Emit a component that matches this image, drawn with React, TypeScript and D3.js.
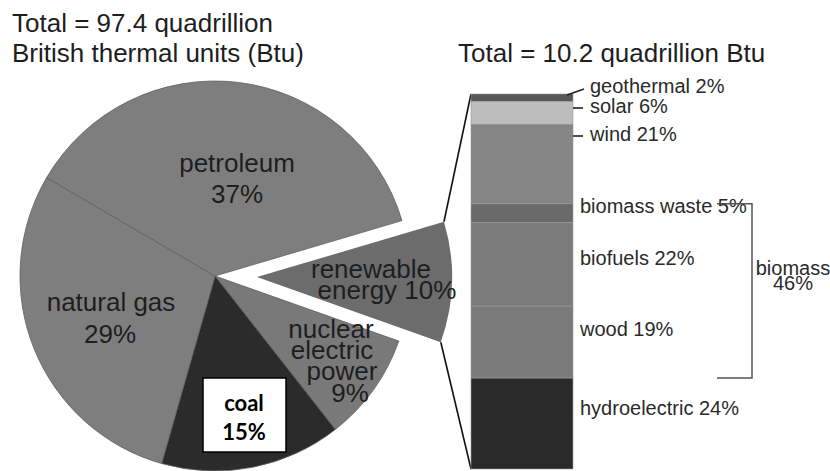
import React from 'react'
import * as d3 from 'd3'

// total energy consumption by source (percent)
const sources = ['renewable', 'nuclear', 'coal', 'natural gas', 'petroleum']
const shares = [10, 9, 15, 29, 37]
const sliceColors = ['#6c6c6c', '#797979', '#2b2b2b', '#7e7e7e', '#7e7e7e']

// renewable energy by source (percent)
const renewables = ['geothermal', 'solar', 'wind', 'biomass waste', 'biofuels', 'wood', 'hydroelectric']
const renewableShares = [2, 6, 21, 5, 22, 19, 24]
const barColors = ['#575757', '#bcbcbc', '#858585', '#6a6a6a', '#7b7b7b', '#7a7a7a', '#2a2a2a']
const biomassParts = ['biomass waste', 'biofuels', 'wood']
const biomassShare = 46

const totalAll = 97.4
const totalRenewable = 10.2

const W = 830, H = 471
const cx = 215, cy = 276, R = 195
const explode = 42
const START = (73.5 * Math.PI) / 180

const barX = 471, barW = 102, barTop = 94, barBottom = 469

const font = "'Liberation Sans', Arial, sans-serif"
const ink = '#1e1e1e'

// label placement, per slice: [x, baseline y] for each line
const pieLabels: Record<string, { text: string; x: number; y: number }[]> = {
  petroleum: [{ text: 'petroleum', x: 237, y: 172 }, { text: '37%', x: 237, y: 203 }],
  'natural gas': [{ text: 'natural gas', x: 111, y: 311 }, { text: '29%', x: 110, y: 343 }],
  renewable: [{ text: 'renewable', x: 371, y: 278 }, { text: 'energy 10%', x: 387, y: 299 }],
  nuclear: [
    { text: 'nuclear', x: 331, y: 338 },
    { text: 'electric', x: 332, y: 359 },
    { text: 'power', x: 342, y: 380 },
    { text: '9%', x: 350, y: 402 },
  ],
}

const barLabelY = [93, 113, 141, 213, 265, 336, 415]

export default function App() {
  const pie = d3.pie<number>().sort(null).startAngle(START).endAngle(START + 2 * Math.PI)
  const arcs = pie(shares)
  const arc = d3.arc<d3.PieArcDatum<number>>().innerRadius(0).outerRadius(R)

  const ren = arcs[0]
  const mid = (ren.startAngle + ren.endAngle) / 2
  const ox = explode * Math.sin(mid)
  const oy = -explode * Math.cos(mid)
  const corner = (a: number) => [cx + ox + R * Math.sin(a), cy + oy - R * Math.cos(a)]
  const [tx, ty] = corner(ren.startAngle)
  const [bx, by] = corner(ren.endAngle)

  const y = d3.scaleLinear().domain([0, d3.sum(renewableShares)]).range([barTop, barBottom])
  const ends = Array.from(d3.cumsum(renewableShares))
  const starts = ends.map((e, i) => e - renewableShares[i])

  const bioIdx = biomassParts.map((p) => renewables.indexOf(p))
  const bioTop = y(starts[bioIdx[0]])
  const bioBottom = y(ends[bioIdx[bioIdx.length - 1]])

  return (
    <svg width={W} height={H} style={{ position: 'absolute', left: 0, top: 0, background: '#fff' }} fontFamily={font}>
      <text x={12} y={32} fontSize={26} fill={ink}>{`Total = ${totalAll} quadrillion`}</text>
      <text x={12} y={62} fontSize={26} fill={ink}>British thermal units (Btu)</text>
      <text x={458} y={62} fontSize={26} fill={ink}>{`Total = ${totalRenewable} quadrillion Btu`}</text>

      {arcs.map((a, i) => {
        const shift = i === 0 ? `translate(${cx + ox},${cy + oy})` : `translate(${cx},${cy})`
        return (
          <path key={sources[i]} d={arc(a) ?? ''} transform={shift} fill={sliceColors[i]}
            stroke={i === 0 ? 'none' : '#5f5f5f'} strokeWidth={0.8} />
        )
      })}

      {sources.map((s) =>
        (pieLabels[s] ?? []).map((l) => (
          <text key={s + l.text} x={l.x} y={l.y} fontSize={26} textAnchor="middle" fill={ink}>{l.text}</text>
        ))
      )}

      <rect x={203} y={378} width={83} height={74} fill="#fff" stroke="#000" strokeWidth={1.5} />
      <text x={244} y={411} fontSize={22} fontWeight="bold" textAnchor="middle" fill="#000" fontFamily="Lato, 'Open Sans', sans-serif">coal</text>
      <text x={244} y={440} fontSize={22} fontWeight="bold" textAnchor="middle" fill="#000" fontFamily="Lato, 'Open Sans', sans-serif">{`${shares[2]}%`}</text>

      <line x1={tx} y1={ty} x2={barX} y2={barTop} stroke="#111" strokeWidth={1.6} />
      <line x1={bx} y1={by} x2={barX} y2={barBottom} stroke="#111" strokeWidth={1.6} />

      {renewables.map((r, i) => (
        <rect key={r} x={barX} y={y(starts[i])} width={barW} height={y(ends[i]) - y(starts[i])}
          fill={barColors[i]} stroke="#9a9a9a" strokeWidth={0.6} />
      ))}

      {renewables.map((r, i) => (
        <text key={'l' + r} x={i < 3 ? 590 : 580} y={barLabelY[i]} fontSize={20} fill="#2a2a2a">
          {`${r} ${renewableShares[i]}%`}
        </text>
      ))}
      <line x1={567} y1={95} x2={584} y2={89} stroke="#222" strokeWidth={1.6} />
      <line x1={573} y1={108} x2={583} y2={108} stroke="#222" strokeWidth={1.6} />
      <line x1={573} y1={136} x2={583} y2={136} stroke="#222" strokeWidth={1.6} />

      <path d={`M717,${bioTop}H752V${bioBottom}H717`} fill="none" stroke="#555" strokeWidth={1.5} />
      <text x={793} y={275} fontSize={20} textAnchor="middle" fill="#2a2a2a">biomass</text>
      <text x={793} y={290} fontSize={20} textAnchor="middle" fill="#2a2a2a">{`${biomassShare}%`}</text>
    </svg>
  )
}
